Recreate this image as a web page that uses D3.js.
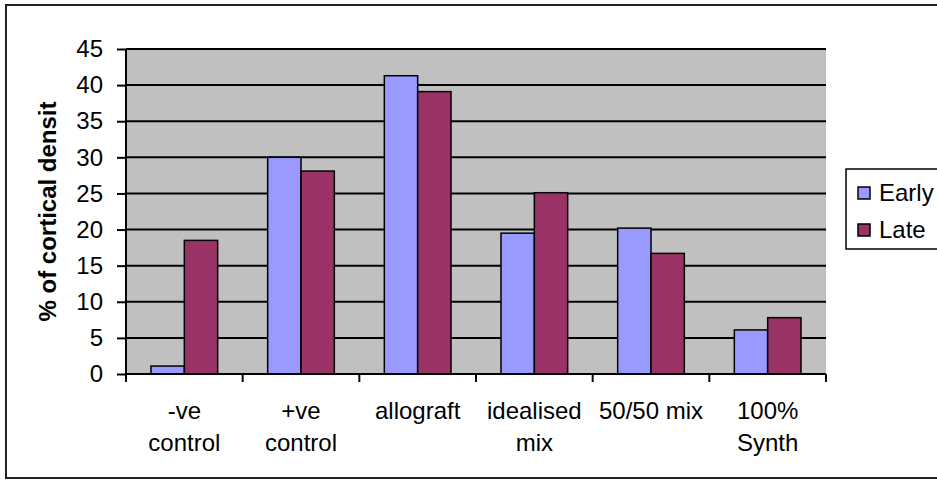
<!DOCTYPE html>
<html>
<head>
<meta charset="utf-8">
<script src="https://cdn.jsdelivr.net/npm/d3@7"></script>
<style>
  html, body { margin: 0; padding: 0; background: #fff; }
  svg { display: block; font-family: "Liberation Sans", Arial, sans-serif; }
</style>
</head>
<body>
<svg id="chart" width="937" height="481"></svg>
<script>
// Group labels (two lines each) and the two series
const categories = ["-ve control", "+ve control", "allograft", "idealised mix", "50/50 mix", "100% Synth"];
const categoryLines = [["-ve", "control"], ["+ve", "control"], ["allograft"], ["idealised", "mix"], ["50/50 mix"], ["100%", "Synth"]];
const seriesNames = ["Early", "Late"];
const earlyValues = [1.1, 30.0, 41.3, 19.5, 20.2, 6.1];
const lateValues = [18.5, 28.1, 39.1, 25.1, 16.7, 7.8];
const yTicks = [0, 5, 10, 15, 20, 25, 30, 35, 40, 45];
const yTitle = "% of cortical densit";

const colors = { Early: "#9999FF", Late: "#993366" };
const FONT = 24;

const svg = d3.select("#chart");

// outer chart frame
svg.append("rect")
  .attr("x", 6).attr("y", 5).attr("width", 940).attr("height", 473)
  .attr("fill", "#fff").attr("stroke", "#222").attr("stroke-width", 2);

const plot = { left: 126, right: 826, top: 49, bottom: 374 };

const x0 = d3.scaleBand().domain(categories).range([plot.left, plot.right]).paddingInner(0).paddingOuter(0);
// two bars per group, with 150% gap between groups
const x1 = d3.scaleBand().domain(seriesNames).range([0, x0.bandwidth()]).paddingInner(0).paddingOuter(0.75);
const y = d3.scaleLinear().domain([0, 45]).range([plot.bottom, plot.top]);

// plot area background
svg.append("rect")
  .attr("x", plot.left).attr("y", plot.top)
  .attr("width", plot.right - plot.left).attr("height", plot.bottom - plot.top)
  .attr("fill", "#C0C0C0");

// horizontal gridlines
svg.append("g").selectAll("line")
  .data(yTicks.filter(t => t > 0))
  .join("line")
  .attr("x1", plot.left).attr("x2", plot.right)
  .attr("y1", d => y(d)).attr("y2", d => y(d))
  .attr("stroke", "#000").attr("stroke-width", 2);

// bars
const rows = categories.map((c, i) => ({ cat: c, vals: [
  { key: "Early", v: earlyValues[i] }, { key: "Late", v: lateValues[i] }
] }));

svg.append("g").selectAll("g")
  .data(rows)
  .join("g")
  .attr("transform", d => `translate(${x0(d.cat)},0)`)
  .selectAll("rect")
  .data(d => d.vals)
  .join("rect")
  .attr("x", d => x1(d.key))
  .attr("width", x1.bandwidth())
  .attr("y", d => y(d.v))
  .attr("height", d => y(0) - y(d.v))
  .attr("fill", d => colors[d.key])
  .attr("stroke", "#000").attr("stroke-width", 1.5);

// y axis
const yAxis = d3.axisLeft(y).tickValues(yTicks).tickSize(9).tickPadding(14).tickFormat(d3.format("d"));
const gy = svg.append("g").attr("transform", `translate(${plot.left},0)`).call(yAxis);
gy.attr("font-size", FONT).attr("font-family", null);
gy.select(".domain").attr("stroke", "#000").attr("stroke-width", 2).attr("d", `M0,${plot.top}V${plot.bottom}`);
gy.selectAll(".tick line").attr("stroke", "#000").attr("stroke-width", 2);
gy.selectAll(".tick text").attr("fill", "#000");

// x axis with ticks at group boundaries
const boundaries = categories.map(c => x0(c)).concat([plot.right]);
const gx = svg.append("g");
gx.append("line")
  .attr("x1", plot.left).attr("x2", plot.right)
  .attr("y1", plot.bottom).attr("y2", plot.bottom)
  .attr("stroke", "#000").attr("stroke-width", 2);
gx.selectAll("line.tk")
  .data(boundaries)
  .join("line").attr("class", "tk")
  .attr("x1", d => d).attr("x2", d => d)
  .attr("y1", plot.bottom).attr("y2", plot.bottom + 8)
  .attr("stroke", "#000").attr("stroke-width", 2);

// category labels
const labels = svg.append("g").selectAll("text")
  .data(categories)
  .join("text")
  .attr("text-anchor", "middle")
  .attr("font-size", FONT)
  .attr("fill", "#000");
labels.each(function(c, i) {
  const t = d3.select(this);
  categoryLines[i].forEach((line, j) => {
    t.append("tspan")
      .attr("x", x0(c) + x0.bandwidth() / 2)
      .attr("y", 419 + j * 32)
      .text(line);
  });
});

// y axis title
svg.append("text")
  .attr("transform", `translate(56,${(plot.top + plot.bottom) / 2}) rotate(-90)`)
  .attr("text-anchor", "middle")
  .attr("font-size", FONT)
  .attr("font-weight", "bold")
  .attr("fill", "#000")
  .text(yTitle);

// legend
const legend = svg.append("g");
legend.append("rect")
  .attr("x", 846).attr("y", 169).attr("width", 100).attr("height", 80)
  .attr("fill", "#fff").attr("stroke", "#000").attr("stroke-width", 1.5);
seriesNames.forEach((s, i) => {
  const cy = 193 + i * 37;
  legend.append("rect")
    .attr("x", 858).attr("y", cy - 6).attr("width", 12).attr("height", 12)
    .attr("fill", colors[s]).attr("stroke", "#000").attr("stroke-width", 1.5);
  legend.append("text")
    .attr("x", 879).attr("y", cy + 8)
    .attr("font-size", FONT).attr("fill", "#000")
    .text(s);
});
</script>
</body>
</html>
